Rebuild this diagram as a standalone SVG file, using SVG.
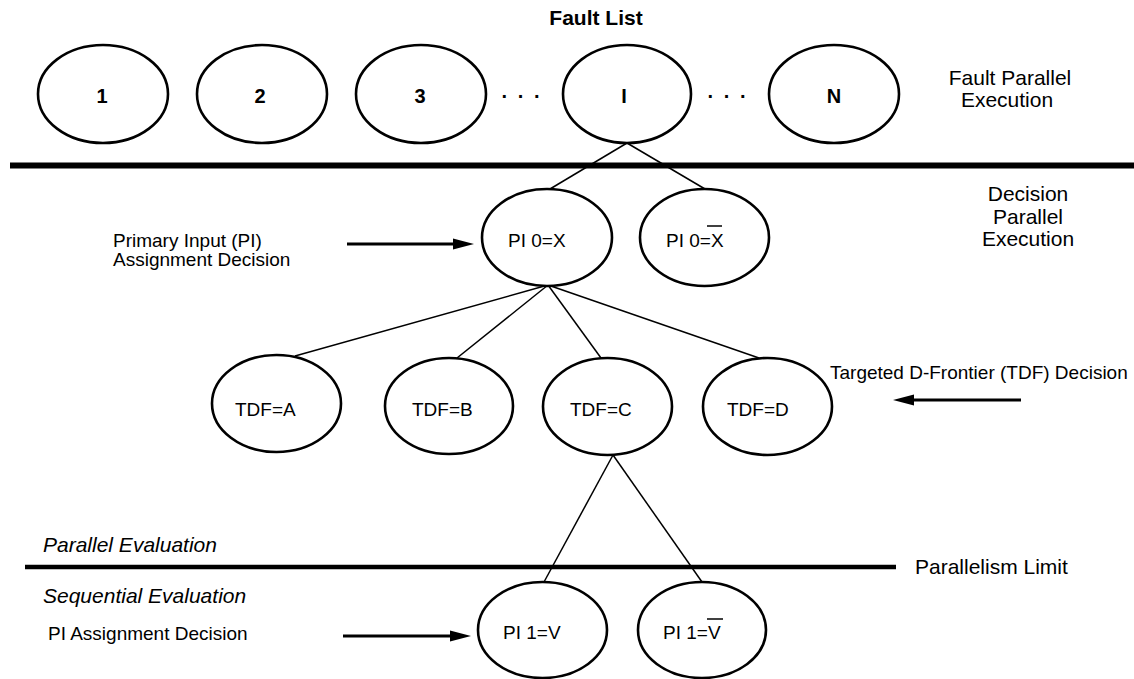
<svg xmlns="http://www.w3.org/2000/svg" width="1134" height="679" viewBox="0 0 1134 679">
<style>
.n{fill:#fff;stroke:#000;stroke-width:2.6}
.c{stroke:#000;stroke-width:1.5;fill:none}
.t{font-family:"Liberation Sans",Arial,sans-serif;fill:#000}
.lb{font-size:19px}
.bd{font-size:20px;font-weight:bold}
.big{font-size:21px}
.it{font-size:21px;font-style:italic}
.bar{stroke:#000;stroke-width:1.5}
.arr{stroke:#000;stroke-width:3}
</style>
<rect width="1134" height="679" fill="#fff"/>
<g id="separators">
<line x1="10" y1="165.5" x2="1134" y2="165.5" stroke="#000" stroke-width="6"/>
<line x1="25" y1="567" x2="896" y2="567" stroke="#000" stroke-width="4.5"/>
</g>
<g id="connectors">
<line class="c" x1="627" y1="143" x2="550" y2="189"/>
<line class="c" x1="627" y1="143" x2="705" y2="189"/>
<line class="c" x1="548" y1="285" x2="295" y2="356"/>
<line class="c" x1="548" y1="285" x2="457" y2="358"/>
<line class="c" x1="548" y1="285" x2="601" y2="358"/>
<line class="c" x1="548" y1="285" x2="759" y2="358"/>
<line class="c" x1="613" y1="455" x2="544" y2="582"/>
<line class="c" x1="613" y1="455" x2="702" y2="582"/>
<line class="arr" x1="347" y1="244" x2="454" y2="244"/>
<polygon points="453,238.5 474,244 453,249.5"/>
<line class="arr" x1="1021" y1="400" x2="913" y2="400"/>
<polygon points="914,394.5 893,400 914,405.5"/>
<line class="arr" x1="343" y1="636" x2="451" y2="636"/>
<polygon points="450,630.5 471,636 450,641.5"/>
</g>
<g id="fault1"><ellipse class="n" cx="103" cy="94" rx="65" ry="49"/><text class="t bd" x="102" y="103" text-anchor="middle">1</text></g>
<g id="fault2"><ellipse class="n" cx="262" cy="94" rx="65" ry="49"/><text class="t bd" x="260" y="103" text-anchor="middle">2</text></g>
<g id="fault3"><ellipse class="n" cx="421" cy="94" rx="65" ry="49"/><text class="t bd" x="420" y="103" text-anchor="middle">3</text></g>
<g id="faultI"><ellipse class="n" cx="627" cy="94" rx="64" ry="49"/><text class="t bd" x="624" y="103" text-anchor="middle">I</text></g>
<g id="faultN"><ellipse class="n" cx="834" cy="94" rx="65" ry="49"/><text class="t bd" x="834" y="103" text-anchor="middle">N</text></g>
<g id="dots"><text class="t bd" x="522" y="103" text-anchor="middle" letter-spacing="2">· · ·</text><text class="t bd" x="728" y="103" text-anchor="middle" letter-spacing="2">· · ·</text></g>
<g id="pi0x"><ellipse class="n" cx="547" cy="237.5" rx="65" ry="48.5"/><text class="t lb" x="508" y="247">PI 0=X</text></g>
<g id="pi0xbar"><ellipse class="n" cx="704.5" cy="237.5" rx="64.5" ry="48.5"/><text class="t lb" x="666" y="247">PI 0=X</text><line class="bar" x1="707" y1="226" x2="722" y2="226"/></g>
<g id="tdfA"><ellipse class="n" cx="276.5" cy="403.5" rx="64.5" ry="48.5"/><text class="t lb" x="235" y="416">TDF=A</text></g>
<g id="tdfB"><ellipse class="n" cx="449" cy="406" rx="64" ry="48"/><text class="t lb" x="412" y="416">TDF=B</text></g>
<g id="tdfC"><ellipse class="n" cx="607.5" cy="406.5" rx="64.5" ry="48.5"/><text class="t lb" x="570" y="416">TDF=C</text></g>
<g id="tdfD"><ellipse class="n" cx="767.5" cy="406.5" rx="64.5" ry="48.5"/><text class="t lb" x="727" y="416">TDF=D</text></g>
<g id="pi1v"><ellipse class="n" cx="542.5" cy="630" rx="64.5" ry="48"/><text class="t lb" x="503" y="639">PI 1=V</text></g>
<g id="pi1vbar"><ellipse class="n" cx="702" cy="630" rx="64" ry="48"/><text class="t lb" x="663" y="639">PI 1=V</text><line class="bar" x1="707" y1="619" x2="723" y2="619"/></g>
<g id="labels">
<text class="t big" x="596" y="25" text-anchor="middle" font-weight="bold">Fault List</text>
<text class="t big" x="1010" y="85" text-anchor="middle">Fault Parallel</text>
<text class="t big" x="1007" y="107" text-anchor="middle">Execution</text>
<text class="t big" x="1028" y="201" text-anchor="middle">Decision</text>
<text class="t big" x="1028" y="223.5" text-anchor="middle">Parallel</text>
<text class="t big" x="1028" y="246" text-anchor="middle">Execution</text>
<text class="t lb" x="113" y="247">Primary Input (PI)</text>
<text class="t lb" x="113" y="266">Assignment Decision</text>
<text class="t lb" x="830" y="379">Targeted D-Frontier (TDF) Decision</text>
<text class="t it" x="43" y="552">Parallel Evaluation</text>
<text class="t it" x="43" y="603">Sequential Evaluation</text>
<text class="t lb" x="48" y="640">PI Assignment Decision</text>
<text class="t big" x="915" y="574">Parallelism Limit</text>
</g>
</svg>
